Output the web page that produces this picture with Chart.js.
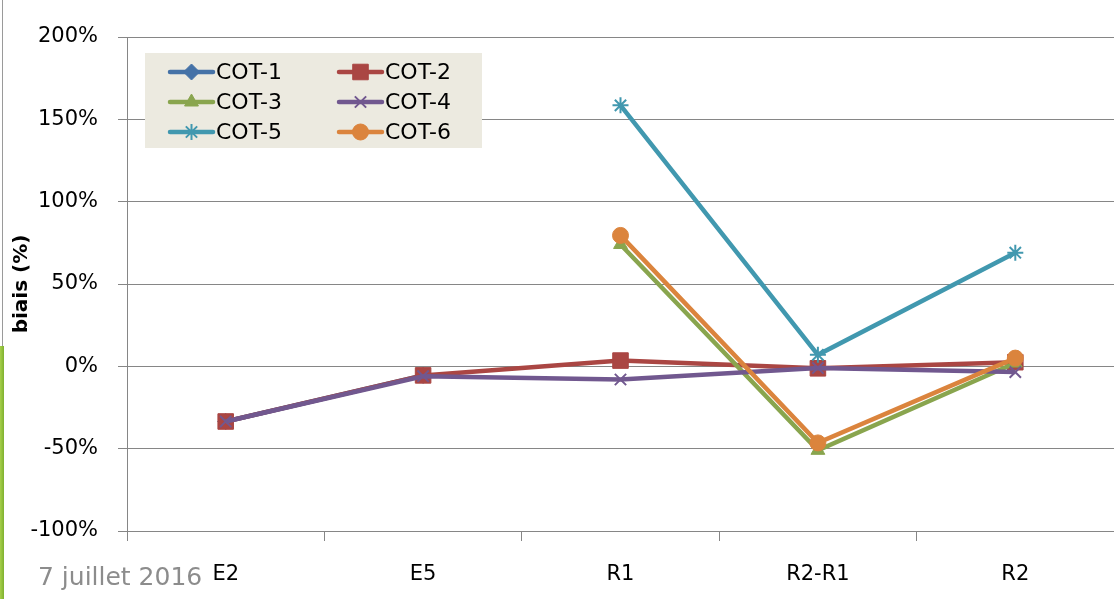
<!DOCTYPE html>
<html>
<head>
<meta charset="utf-8">
<script src="https://cdn.jsdelivr.net/npm/chart.js@4.4.1/dist/chart.umd.min.js"></script>
<style>
  html, body { margin: 0; padding: 0; background: #ffffff; overflow: hidden; }
  #wrap { position: relative; width: 1114px; height: 599px; overflow: hidden; }
  #chart { position: absolute; left: 0; top: 0; }
  .frame-line { position: absolute; left: 2px; top: 0; width: 1px; height: 346px; background: #9a9a9a; }
  .frame-bar { position: absolute; left: 0; top: 346px; width: 4px; height: 253px;
               background: linear-gradient(to right, #a6cf4a, #7fb12f); }
</style>
</head>
<body>
<div id="wrap">
  <!-- the plot runs to the right edge of the slide; the canvas is a little wider and clipped -->
  <canvas id="chart" width="1126" height="599"></canvas>
  <div class="frame-line"></div>
  <div class="frame-bar"></div>
</div>
<script>
// Sampling stages on the x axis
const stages = ['E2', 'E5', 'R1', 'R2-R1', 'R2'];

// Bias per stage, in percent (null = not measured)
const cot1 = [-33.5, -5.5, null, null, null];
const cot2 = [-33.5, -5.5, 3.5, -1.2, 2.5];
const cot3 = [null, null, 74, -51, 2];
const cot4 = [-33.5, -6, -8, -1, -3.5];
const cot5 = [null, null, 158.5, 7, 69];
const cot6 = [null, null, 79.5, -46.5, 5];

const seriesNames = ['COT-1', 'COT-2', 'COT-3', 'COT-4', 'COT-5', 'COT-6'];
const yTicks = [-100, -50, 0, 50, 100, 150, 200];
const dateText = '7 juillet 2016';

const FONT = '"DejaVu Sans", "Open Sans", sans-serif';

const styles = [
  { color: '#4572A7', point: 'rectRot', radius: 8 },
  { color: '#AA4643', point: 'rect', radius: 11 },
  { color: '#89A54E', point: 'triangle', radius: 8 },
  { color: '#71588F', point: 'crossRot', radius: 8 },
  { color: '#4198AF', point: 'star', radius: 8 },
  { color: '#DB843D', point: 'circle', radius: 8 }
];

const values = [cot1, cot2, cot3, cot4, cot5, cot6];

const datasets = values.map((v, i) => ({
  label: seriesNames[i],
  data: v,
  borderColor: styles[i].color,
  backgroundColor: styles[i].color,
  pointBackgroundColor: styles[i].color,
  pointBorderColor: styles[i].color,
  pointStyle: styles[i].point,
  pointRadius: styles[i].radius,
  pointBorderWidth: (styles[i].point === 'crossRot' || styles[i].point === 'star') ? 2 : 1,
  borderWidth: 4.5,
  tension: 0,
  spanGaps: false,
  order: values.length - i
}));

// Boxed legend in the upper-left corner of the plot, plus the footer date
const boxLegend = {
  id: 'boxLegend',
  afterDraw(chart) {
    const ctx = chart.ctx;
    ctx.save();
    ctx.fillStyle = '#ECEAE0';
    ctx.fillRect(145, 53, 337, 95);
    const cols = [170, 339];
    const rows = [72, 102, 132];
    ctx.font = '22px ' + FONT;
    ctx.textBaseline = 'middle';
    chart.data.datasets.forEach((ds, i) => {
      const x = cols[i % 2];
      const y = rows[Math.floor(i / 2)];
      ctx.strokeStyle = ds.borderColor;
      ctx.lineWidth = 4.5;
      ctx.lineCap = 'round';
      ctx.beginPath();
      ctx.moveTo(x, y);
      ctx.lineTo(x + 43, y);
      ctx.stroke();
      ctx.lineCap = 'butt';
      ctx.fillStyle = ds.pointBackgroundColor;
      ctx.strokeStyle = ds.pointBorderColor;
      ctx.lineWidth = ds.pointBorderWidth;
      Chart.helpers.drawPoint(ctx, {
        pointStyle: ds.pointStyle,
        rotation: 0,
        radius: ds.pointRadius,
        borderWidth: ds.pointBorderWidth
      }, x + 21.5, y);
      ctx.fillStyle = '#000000';
      ctx.textAlign = 'left';
      ctx.fillText(ds.label, x + 46, y + 1);
    });
    ctx.font = '25px ' + FONT;
    ctx.fillStyle = '#8C8C8C';
    ctx.textBaseline = 'alphabetic';
    ctx.fillText(dateText, 38, 585);
    ctx.restore();
  }
};

new Chart(document.getElementById('chart'), {
  type: 'line',
  data: { labels: stages, datasets },
  plugins: [boxLegend],
  options: {
    responsive: false,
    animation: false,
    layout: { padding: { left: 0, top: 37, right: 0, bottom: 0 } },
    plugins: {
      legend: { display: false },
      tooltip: { enabled: false }
    },
    scales: {
      x: {
        offset: true,
        grid: {
          offset: true,
          drawOnChartArea: false,
          drawTicks: true,
          tickLength: 10,
          color: '#868686'
        },
        border: { color: '#868686', width: 1 },
        ticks: {
          color: '#000000',
          font: { family: FONT, size: 21 },
          padding: 21,
          maxRotation: 0
        },
        afterFit(scale) { scale.height = 68; }
      },
      y: {
        min: -100,
        max: 200,
        afterBuildTicks(scale) { scale.ticks = yTicks.map(v => ({ value: v })); },
        grid: {
          color: '#868686',
          drawTicks: true,
          tickLength: 9
        },
        border: { color: '#868686', width: 1 },
        ticks: {
          color: '#000000',
          font: { family: FONT, size: 21 },
          padding: 20,
          callback: v => v + '%'
        },
        title: {
          display: true,
          text: 'biais (%)',
          color: '#000000',
          font: { family: FONT, size: 20, weight: 'bold' },
          padding: { top: 10, bottom: 0 }
        },
        afterFit(scale) { scale.width = 127; }
      }
    }
  }
});
</script>
</body>
</html>
